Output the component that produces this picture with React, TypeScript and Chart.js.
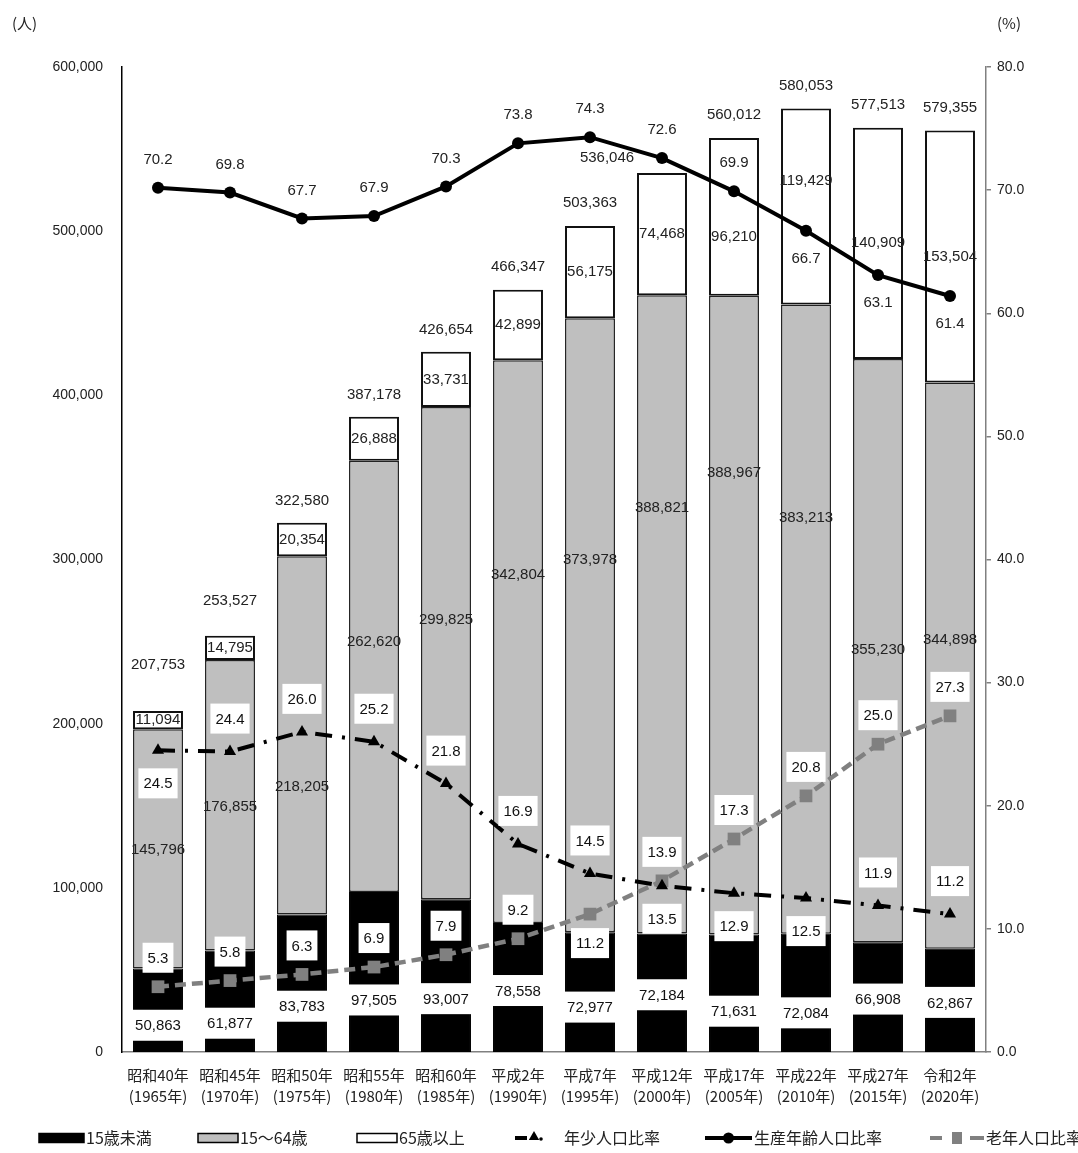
import React, { useEffect, useRef } from 'react';
import { Chart, registerables } from 'chart.js';

Chart.register(...registerables);

// ---------------- data ----------------
const categories: string[][] = [
  ['昭和40年', '(1965年)'],
  ['昭和45年', '(1970年)'],
  ['昭和50年', '(1975年)'],
  ['昭和55年', '(1980年)'],
  ['昭和60年', '(1985年)'],
  ['平成2年', '(1990年)'],
  ['平成7年', '(1995年)'],
  ['平成12年', '(2000年)'],
  ['平成17年', '(2005年)'],
  ['平成22年', '(2010年)'],
  ['平成27年', '(2015年)'],
  ['令和2年', '(2020年)'],
];

const under15 = [50863, 61877, 83783, 97505, 93007, 78558, 72977, 72184, 71631, 72084, 66908, 62867];
const age15to64 = [145796, 176855, 218205, 262620, 299825, 342804, 373978, 388821, 388967, 383213, 355230, 344898];
const over65 = [11094, 14795, 20354, 26888, 33731, 42899, 56175, 74468, 96210, 119429, 140909, 153504];
const totals = [207753, 253527, 322580, 387178, 426654, 466347, 503363, 536046, 560012, 580053, 577513, 579355];

const youthRatio = [24.5, 24.4, 26.0, 25.2, 21.8, 16.9, 14.5, 13.5, 12.9, 12.5, 11.9, 11.2];
const workingRatio = [70.2, 69.8, 67.7, 67.9, 70.3, 73.8, 74.3, 72.6, 69.9, 66.7, 63.1, 61.4];
const elderlyRatio = [5.3, 5.8, 6.3, 6.9, 7.9, 9.2, 11.2, 13.9, 17.3, 20.8, 25.0, 27.3];

const leftAxisMax = 600000;
const leftAxisStep = 100000;
const rightAxisMax = 80;
const rightAxisStep = 10;

// ---------------- label placement (style) ----------------
const youthLabelSide = ['below', 'above', 'above', 'above', 'above', 'above', 'above', 'below', 'below', 'below', 'above', 'above'];
const workingLabelSide = ['above', 'above', 'above', 'above', 'above', 'above', 'above', 'above', 'above', 'below', 'below', 'below'];
const elderlyLabelSide = ['above', 'above', 'above', 'above', 'above', 'above', 'below', 'above', 'above', 'above', 'above', 'above'];
const blackLabelShift = [15, 22, 23, 28, 23, 3, 15, 2, 18, 20, 2, 2];
const grayLabelShift = [1, 2, 52, -35, -33, -67, -65, -106, -142, -101, -1, -26];
const whiteLabelShift = [0, 0, 0, 0, 0, 0, 0, 0, 20, -26, 0, 0];
const totalLabelRise = [46, 35, 22, 22, 22, 23, 23, 15, 23, 23, 23, 23];
const totalLabelShiftX = [0, 0, 0, 0, 0, 0, 0, -55, 0, 0, 0, 0];
const legendItemStarts = [39, 198, 357, 515, 705, 930];

const FONT_NUM = '"Liberation Sans", Arial, "Noto Sans CJK JP", sans-serif';
const FONT_JP = '"Noto Sans CJK JP", "Liberation Sans", sans-serif';
const GRAY_FILL = '#bfbfbf';
const ELDER_GRAY = '#808080';

const fmt = (v: number) => v.toLocaleString('en-US');

function drawBoxed(ctx: CanvasRenderingContext2D, text: string, x: number, y: number, padX: number, h: number) {
  const w = ctx.measureText(text).width + padX * 2;
  ctx.fillStyle = '#ffffff';
  ctx.fillRect(x - w / 2, y - h / 2, w, h);
  ctx.fillStyle = '#111111';
  ctx.fillText(text, x, y + 1);
}

function drawTriangle(ctx: CanvasRenderingContext2D, x: number, y: number, r: number) {
  ctx.beginPath();
  ctx.moveTo(x, y - r);
  ctx.lineTo(x + r * Math.sin(Math.PI / 3), y + r * 0.5);
  ctx.lineTo(x - r * Math.sin(Math.PI / 3), y + r * 0.5);
  ctx.closePath();
  ctx.fill();
}

const labelsPlugin = {
  id: 'customLabels',
  afterDatasetsDraw(chart: any) {
    const ctx: CanvasRenderingContext2D = chart.ctx;
    ctx.save();
    ctx.textAlign = 'center';
    ctx.textBaseline = 'middle';
    ctx.font = `15px ${FONT_NUM}`;
    const mBlack = chart.getDatasetMeta(0);
    const mGray = chart.getDatasetMeta(1);
    const mWhite = chart.getDatasetMeta(2);
    for (let i = 0; i < categories.length; i++) {
      const b = mBlack.data[i].getProps(['x', 'y', 'base'], true);
      const g = mGray.data[i].getProps(['x', 'y', 'base'], true);
      const w = mWhite.data[i].getProps(['x', 'y', 'base'], true);
      drawBoxed(ctx, fmt(under15[i]), b.x, (b.y + b.base) / 2 + blackLabelShift[i], 8, 31);
      ctx.fillStyle = '#222222';
      ctx.fillText(fmt(age15to64[i]), g.x, (g.y + g.base) / 2 + grayLabelShift[i]);
      ctx.fillText(fmt(over65[i]), w.x, (w.y + w.base) / 2 + whiteLabelShift[i]);
      ctx.fillText(fmt(totals[i]), w.x + totalLabelShiftX[i], w.y - totalLabelRise[i]);
    }
    const lines = [
      { idx: 3, values: youthRatio, sides: youthLabelSide, gap: 33, box: true },
      { idx: 4, values: workingRatio, sides: workingLabelSide, gap: 28, box: false },
      { idx: 5, values: elderlyRatio, sides: elderlyLabelSide, gap: 29, box: true },
    ];
    for (const l of lines) {
      const meta = chart.getDatasetMeta(l.idx);
      for (let i = 0; i < l.values.length; i++) {
        const p = meta.data[i].getProps(['x', 'y'], true);
        const y = l.sides[i] === 'above' ? p.y - l.gap : p.y + l.gap;
        const t = l.values[i].toFixed(1);
        if (l.box) {
          drawBoxed(ctx, t, p.x, y, 5, 30);
        } else {
          ctx.fillStyle = '#222222';
          ctx.fillText(t, p.x, y);
        }
      }
    }
    ctx.restore();
  },
  afterDraw(chart: any) {
    const ctx: CanvasRenderingContext2D = chart.ctx;
    ctx.save();
    // unit labels
    ctx.fillStyle = '#222222';
    ctx.textBaseline = 'middle';
    ctx.textAlign = 'left';
    ctx.font = `15px ${FONT_JP}`;
    ctx.fillText('(人)', 12, 23);
    ctx.fillText('(%)', 997, 23);

    // legend
    const ly = 1138;
    ctx.font = `16px ${FONT_JP}`;
    const items = [
      { label: '15歳未満', w: 45, kind: 'box', fill: '#000000' },
      { label: '15～64歳', w: 40, kind: 'box', fill: GRAY_FILL },
      { label: '65歳以上', w: 40, kind: 'box', fill: '#ffffff' },
      { label: '年少人口比率', w: 47, kind: 'youth' },
      { label: '生産年齢人口比率', w: 47, kind: 'working' },
      { label: '老年人口比率', w: 54, kind: 'elderly' },
    ];
    items.forEach((it, k) => {
      const x = legendItemStarts[k];
      if (it.kind === 'box') {
        ctx.fillStyle = it.fill as string;
        ctx.fillRect(x, ly - 4.5, it.w, 9);
        ctx.strokeStyle = '#000000';
        ctx.lineWidth = 1.5;
        ctx.strokeRect(x, ly - 4.5, it.w, 9);
      } else if (it.kind === 'youth') {
        ctx.fillStyle = '#000000';
        ctx.fillRect(x, ly - 2, 12, 4);
        drawTriangle(ctx, x + 19, ly - 1, 6);
        ctx.beginPath();
        ctx.arc(x + 26, ly + 1, 1.8, 0, Math.PI * 2);
        ctx.fill();
      } else if (it.kind === 'working') {
        ctx.fillStyle = '#000000';
        ctx.fillRect(x, ly - 2, it.w, 4);
        ctx.beginPath();
        ctx.arc(x + it.w / 2, ly, 5.5, 0, Math.PI * 2);
        ctx.fill();
      } else {
        ctx.fillStyle = ELDER_GRAY;
        ctx.fillRect(x, ly - 2, 12, 4);
        ctx.fillRect(x + it.w - 14, ly - 2, 14, 4);
        ctx.fillRect(x + it.w / 2 - 5, ly - 6, 10, 12);
      }
      ctx.fillStyle = '#222222';
      ctx.fillText(it.label, x + it.w + 2, ly);
    });
    ctx.restore();
  },
};

export default function App() {
  const ref = useRef<HTMLCanvasElement>(null);

  useEffect(() => {
    const canvas = ref.current;
    if (!canvas) return;
    const chart = new Chart(canvas, {
      type: 'bar',
      data: {
        labels: categories,
        datasets: [
          {
            type: 'bar',
            label: '15歳未満',
            data: under15,
            backgroundColor: '#000000',
            borderColor: '#000000',
            borderWidth: 1,
            borderSkipped: false,
            stack: 'pop',
            yAxisID: 'y',
            order: 1,
            barPercentage: 0.694,
            categoryPercentage: 1,
          },
          {
            type: 'bar',
            label: '15～64歳',
            data: age15to64,
            backgroundColor: GRAY_FILL,
            borderColor: '#222222',
            borderWidth: 1.5,
            borderSkipped: false,
            stack: 'pop',
            yAxisID: 'y',
            order: 1,
            barPercentage: 0.694,
            categoryPercentage: 1,
          },
          {
            type: 'bar',
            label: '65歳以上',
            data: over65,
            backgroundColor: '#ffffff',
            borderColor: '#111111',
            borderWidth: 2,
            borderSkipped: false,
            stack: 'pop',
            yAxisID: 'y',
            order: 1,
            barPercentage: 0.694,
            categoryPercentage: 1,
          },
          {
            type: 'line',
            label: '年少人口比率',
            data: youthRatio,
            yAxisID: 'y2',
            order: 0,
            borderColor: '#000000',
            borderWidth: 4,
            borderDash: [17, 10, 3, 10],
            borderCapStyle: 'butt',
            pointStyle: 'triangle',
            pointRadius: 7,
            pointBackgroundColor: '#000000',
            pointBorderColor: '#000000',
            pointBorderWidth: 0,
            tension: 0,
            fill: false,
          },
          {
            type: 'line',
            label: '生産年齢人口比率',
            data: workingRatio,
            yAxisID: 'y2',
            order: 0,
            borderColor: '#000000',
            borderWidth: 4,
            pointStyle: 'circle',
            pointRadius: 6,
            pointBackgroundColor: '#000000',
            pointBorderColor: '#000000',
            pointBorderWidth: 0,
            tension: 0,
            fill: false,
          },
          {
            type: 'line',
            label: '老年人口比率',
            data: elderlyRatio,
            yAxisID: 'y2',
            order: 0,
            borderColor: ELDER_GRAY,
            borderWidth: 4.5,
            borderDash: [11, 6],
            borderCapStyle: 'butt',
            pointStyle: 'rect',
            pointRadius: 9,
            pointBackgroundColor: ELDER_GRAY,
            pointBorderColor: ELDER_GRAY,
            pointBorderWidth: 0,
            tension: 0,
            fill: false,
          },
        ] as any,
      },
      options: {
        responsive: false,
        animation: false,
        layout: { padding: { top: 67, left: 0, right: 0, bottom: 43 } },
        plugins: {
          legend: { display: false },
          tooltip: { enabled: false },
        },
        scales: {
          x: {
            stacked: true,
            grid: { display: false, drawTicks: false },
            border: { display: true, color: '#808080', width: 1.5 },
            ticks: {
              color: '#222222',
              padding: 12,
              font: { family: FONT_JP, size: 15, lineHeight: 1.45 },
              maxRotation: 0,
              autoSkip: false,
            },
            afterFit: (s: any) => {
              s.height = 58;
            },
          },
          y: {
            stacked: true,
            position: 'left',
            min: 0,
            max: leftAxisMax,
            grid: { display: false, drawTicks: false },
            border: { display: true, color: '#000000', width: 1.5 },
            ticks: {
              stepSize: leftAxisStep,
              padding: 19,
              color: '#222222',
              font: { family: FONT_NUM, size: 14 },
              callback: (v: any) => Number(v).toLocaleString('en-US'),
            },
            afterFit: (s: any) => {
              s.width = 122;
            },
          },
          y2: {
            stacked: false,
            position: 'right',
            min: 0,
            max: rightAxisMax,
            grid: { display: true, drawOnChartArea: false, drawTicks: true, tickLength: 5, color: '#808080', lineWidth: 1.5 },
            border: { display: true, color: '#808080', width: 1.5 },
            ticks: {
              stepSize: rightAxisStep,
              padding: 6,
              color: '#222222',
              font: { family: FONT_NUM, size: 14 },
              callback: (v: any) => Number(v).toFixed(1),
            },
            afterFit: (s: any) => {
              s.width = 92;
            },
          },
        },
      } as any,
      plugins: [labelsPlugin],
    });
    return () => chart.destroy();
  }, []);

  return (
    <div style={{ position: 'absolute', left: 0, top: 0, width: 1078, height: 1153, background: '#ffffff' }}>
      <canvas ref={ref} width={1078} height={1153} style={{ display: 'block' }} />
    </div>
  );
}
